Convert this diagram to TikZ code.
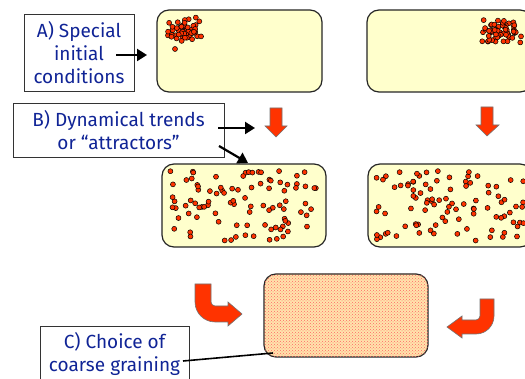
\documentclass[tikz,border=0pt]{standalone}
\usepackage{fontspec}
\setmainfont{Fira Sans}
\usetikzlibrary{arrows.meta,patterns}
\definecolor{lblue}{RGB}{16,36,150}
\definecolor{boxy}{RGB}{255,255,204}
\definecolor{dotred}{RGB}{255,51,0}
\definecolor{peach}{RGB}{255,228,172}
\begin{document}
\begin{tikzpicture}[x=1pt,y=-1pt,
  ybox/.style={draw=black!85,line width=1.2pt,rounded corners=12pt,fill=boxy,minimum width=165pt,minimum height=82pt,inner sep=0pt},
  lbl/.style={draw=black!80,line width=0.9pt,fill=white,text=lblue,align=center,font=\fontsize{19}{23}\selectfont,inner sep=0pt},
  dotc/.style={fill=dotred,draw=black,line width=0.5pt},
  redarrow/.style={fill=dotred,draw=black!55,line width=0.6pt},
  blk/.style={line width=2.2pt,-{Triangle[length=10pt,width=12pt]}}]
\clip (0,0) rectangle (525,379);
\fill[white] (0,0) rectangle (525,379);
% state boxes
\node[ybox] (tl) at (239.5,51) {};
\node[ybox] (tr) at (449.5,51) {};
\node[ybox,minimum width=164pt,minimum height=83pt] (ml) at (244,205.5) {};
\node[ybox,minimum width=164pt,minimum height=83pt] (mr) at (450,205.5) {};
\node[ybox,fill=peach,minimum width=164pt,minimum height=83pt,postaction={pattern=crosshatch dots,pattern color=red!60}] (cg) at (346,315.5) {};
% dots: top clusters
\pgfmathsetseed{11}
\foreach \i in {1,...,55}{
  \pgfmathsetmacro{\px}{184+11*(rand+rand)}
  \pgfmathsetmacro{\py}{29+7*(rand+rand)}
  \draw[dotc] (\px,\py) circle[radius=2.5pt];
}
\draw[dotc] (175,49) circle[radius=2.5pt];
\foreach \i in {1,...,60}{
  \pgfmathsetmacro{\px}{501+11*(rand+rand)}
  \pgfmathsetmacro{\py}{32+8*(rand+rand)}
  \draw[dotc] (\px,\py) circle[radius=2.5pt];
}
% dots: spread
\foreach \i in {1,...,95}{
  \pgfmathsetmacro{\px}{169+149*rnd}
  \pgfmathsetmacro{\py}{171+70*rnd}
  \draw[dotc] (\px,\py) circle[radius=2.5pt];
}
\foreach \i in {1,...,95}{
  \pgfmathsetmacro{\px}{375+150*rnd}
  \pgfmathsetmacro{\py}{171+70*rnd}
  \draw[dotc] (\px,\py) circle[radius=2.5pt];
}
% labels
\node[lbl,minimum width=110pt,minimum height=77pt] (A) at (79,52.5) {A) Special\\initial\\conditions};
\node[lbl,minimum width=211pt,minimum height=54pt] (B) at (118.5,130) {B) Dynamical trends\\or “attractors”};
\node[lbl,minimum width=149pt,minimum height=56pt] (C) at (114.5,354) {C) Choice of\\coarse graining};
% black connectors
\coordinate (a1) at (116,55);
\coordinate (a2) at (147,55);
\draw[blk] (a1) -- (a2);
\coordinate (b1) at (218,128);
\coordinate (b2) at (255,128);
\draw[blk] (b1) -- (b2);
\coordinate (b3) at (219,146);
\coordinate (b4) at (248,163);
\draw[blk] (b3) -- (b4);
\coordinate (c1) at (183,361);
\coordinate (c2) at (273,353);
\draw[line width=1.6pt] (c1) -- (c2);
% red arrows
\draw[redarrow] (270,108) -- (282,108) -- (282,126) -- (287,126) -- (276,137) -- (265,126) -- (270,126) -- cycle;
\draw[redarrow] (481,107) -- (493,107) -- (493,125) -- (499,125) -- (487,136) -- (476,125) -- (481,125) -- cycle;
\draw[redarrow] (195,284) -- (195,302) .. controls (195,313) and (204,322) .. (215,322) -- (228,322) -- (228,326) -- (242,314) -- (228,302) -- (228,306) -- (215,306) .. controls (213,306) and (211,304) .. (211,302) -- (211,284) -- cycle;
\draw[redarrow] (494,299) -- (494,316) .. controls (494,326) and (486,334) .. (476,334) -- (462,334) -- (462,338) -- (447,327) -- (462,316) -- (462,320) -- (476,320) .. controls (478,320) and (480,318) .. (480,316) -- (480,299) -- cycle;
\end{tikzpicture}
\end{document}
